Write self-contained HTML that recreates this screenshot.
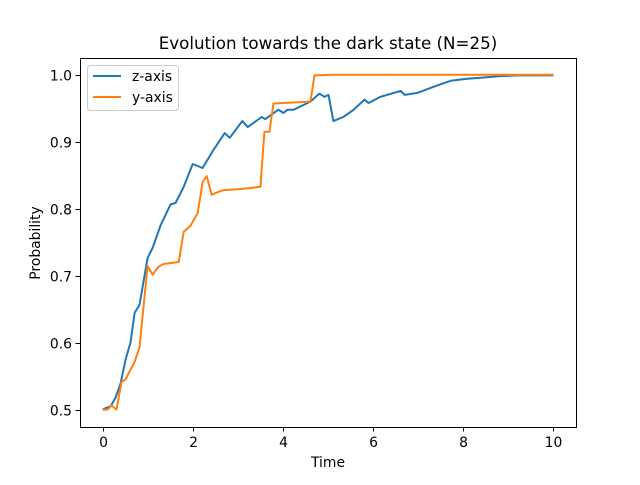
<!DOCTYPE html>
<html><head><meta charset="utf-8"><style>
body{margin:0;background:#fff}
svg text{font-family:"DejaVu Sans","Liberation Sans",sans-serif;fill:#000}
</style></head><body>
<svg id="chart" width="640" height="480" xmlns="http://www.w3.org/2000/svg">
<rect width="640" height="480" fill="#fff"/>
<text x="328" y="49" font-size="16.7" text-anchor="middle">Evolution towards the dark state (N=25)</text>
<g id="ticks"></g>
<g id="lines"></g>
<rect x="80.5" y="58.5" width="496" height="369" fill="none" stroke="#000" stroke-width="1"/>
<text x="328" y="467" font-size="13.9" text-anchor="middle">Time</text>
<text transform="translate(40,243) rotate(-90)" font-size="13.9" text-anchor="middle">Probability</text>
<g>
<rect x="87.5" y="65.5" width="91" height="45" rx="3" fill="#fff" fill-opacity="0.8" stroke="#ccc"/>
<line x1="93" y1="76" x2="121" y2="76" stroke="#1f77b4" stroke-width="2"/>
<text x="132" y="81" font-size="13.9">z-axis</text>
<line x1="93" y1="97" x2="121" y2="97" stroke="#ff7f0e" stroke-width="2"/>
<text x="132" y="102" font-size="13.9">y-axis</text>
</g>
</svg>
<script>
const zT=[0,0.18,0.29,0.40,0.51,0.62,0.71,0.82,1.00,1.11,1.29,1.51,1.62,1.80,2.00,2.22,2.46,2.71,2.82,3.10,3.22,3.53,3.61,3.90,4.01,4.10,4.24,4.61,4.81,4.92,5.01,5.12,5.34,5.57,5.81,5.90,6.16,6.61,6.70,6.98,7.34,7.72,8.09,8.45,8.82,9.20,10];
const zV=[0.501,0.506,0.519,0.540,0.575,0.601,0.645,0.657,0.727,0.742,0.776,0.807,0.809,0.833,0.867,0.861,0.888,0.913,0.906,0.931,0.922,0.937,0.934,0.948,0.943,0.948,0.948,0.960,0.972,0.967,0.970,0.931,0.937,0.948,0.963,0.958,0.967,0.976,0.970,0.973,0.982,0.991,0.994,0.996,0.998,0.999,0.999];
const yT=[0,0.11,0.20,0.31,0.42,0.51,0.71,0.82,1.00,1.11,1.24,1.35,1.69,1.80,1.95,2.11,2.22,2.31,2.42,2.55,2.68,3.13,3.50,3.59,3.70,3.79,4.01,4.61,4.70,5.12,10];
const yV=[0.501,0.501,0.507,0.501,0.542,0.546,0.572,0.594,0.715,0.702,0.714,0.718,0.721,0.766,0.775,0.794,0.840,0.849,0.821,0.825,0.828,0.830,0.833,0.915,0.915,0.957,0.958,0.960,0.999,1.0,1.0];
const xTicks=[0,2,4,6,8,10];
const yTicks=[0.5,0.6,0.7,0.8,0.9,1.0];
const yTickLabels=["0.5","0.6","0.7","0.8","0.9","1.0"];
const X=t=>80+(t+0.5)/11*496;
const Y=v=>427-(v-0.475)/0.55*369;
const NS="http://www.w3.org/2000/svg";
const tk=document.getElementById('ticks');
function mk(tag,attrs,parent){const e=document.createElementNS(NS,tag);for(const k in attrs)e.setAttribute(k,attrs[k]);parent.appendChild(e);return e;}
xTicks.forEach(t=>{
 const x=Math.round(X(t))+0.5;
 const l=mk('line',{x1:x,y1:427,x2:x,y2:431.5,stroke:'#000'},tk);
 
 
 const tx=mk('text',{x:x,y:447,'font-size':'13.9','text-anchor':'middle'},tk);
 tx.textContent=t;
 
 
});
yTicks.forEach((v,i)=>{
 const y=Math.round(Y(v))+0.5;
 const l=mk('line',{x1:75.5,y1:y,x2:80,y2:y,stroke:'#000'},tk);
 
 
 const tx=mk('text',{x:72,y:y+5,'font-size':'13.9','text-anchor':'end'},tk);
 tx.textContent=yTickLabels[i];
 
 
});
const lg=document.getElementById('lines');
function series(ts,vs,color,name){
 const p=mk('polyline',{points:ts.map((t,i)=>X(t).toFixed(1)+','+Y(vs[i]).toFixed(1)).join(' '),fill:'none',stroke:color,'stroke-width':2,'stroke-linejoin':'round'},lg);
 
 
}
series(zT,zV,'#1f77b4','z-axis-line');
series(yT,yV,'#ff7f0e','y-axis-line');
</script>
</body></html>
